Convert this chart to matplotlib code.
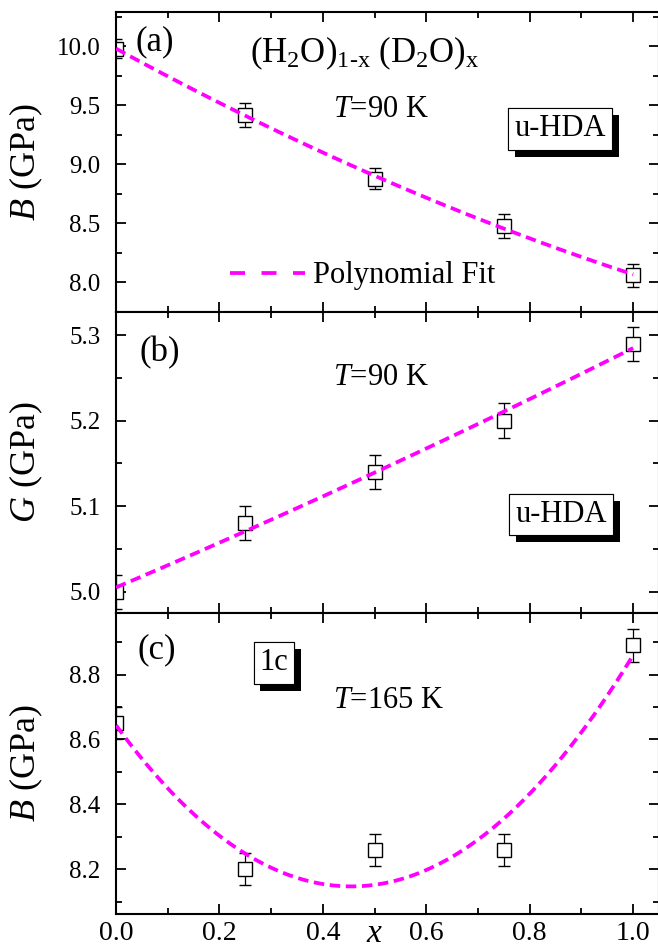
import numpy as np
import matplotlib
matplotlib.use('Agg')
import matplotlib.pyplot as plt
from matplotlib.ticker import MultipleLocator, FormatStrFormatter
from matplotlib.lines import Line2D
import matplotlib.patheffects as pe

plt.rcParams['font.family'] = ['Liberation Serif', 'DejaVu Serif']
plt.rcParams['mathtext.fontset'] = 'custom'
plt.rcParams['mathtext.rm'] = 'Liberation Serif'
plt.rcParams['mathtext.it'] = 'Liberation Serif:italic'

# D2O fraction
x = [0.0, 0.25, 0.5, 0.75, 1.0]

# (a) bulk modulus, u-HDA, 90 K
b_hda = [9.98, 9.42, 8.88, 8.48, 8.06]
b_hda_err = [0.08, 0.10, 0.09, 0.10, 0.10]

# (b) shear modulus, u-HDA, 90 K
g_hda = [5.00, 5.08, 5.14, 5.20, 5.29]
g_hda_err = [0.02, 0.02, 0.02, 0.02, 0.02]

# (c) bulk modulus, ice 1c, 165 K
b_ic = [8.65, 8.20, 8.26, 8.26, 8.89]
b_ic_err = [0.05, 0.05, 0.05, 0.05, 0.05]

fit_color = '#ff00ff'

fig = plt.figure(figsize=(6.58, 9.5), dpi=100)
left, right = 0.1763, 1.0015
tops = [0.98737, 0.67158, 0.35474]
bots = [0.67158, 0.35474, 0.03789]
axes = [fig.add_axes([left, b, right - left, t - b]) for t, b in zip(tops, bots)]

panels = [
    (b_hda, b_hda_err, (7.75, 10.29), 0.5, 0.25, '$B$ (GPa)'),
    (g_hda, g_hda_err, (4.975, 5.327), 0.1, 0.05, '$G$ (GPa)'),
    (b_ic, b_ic_err, (8.062, 8.99), 0.2, 0.1, '$B$ (GPa)'),
]

xf = np.linspace(0, 1, 200)
for ax, (y, err, ylim, maj, mnr, ylab) in zip(axes, panels):
    # quadratic polynomial fit of the points
    coef = np.polyfit(x, y, 2)
    ax.plot(xf, np.polyval(coef, xf), color=fit_color, lw=2.7,
            dashes=(2.8, 1.5), zorder=3)
    ax.errorbar(x, y, yerr=err, fmt='s', mfc='white', mec='black', mew=1.0,
                ms=10, ecolor='black', elinewidth=0.9, capsize=4.5,
                capthick=0.9, zorder=2)
    ax.set_xlim(0, 1.05)
    ax.set_ylim(*ylim)
    ax.xaxis.set_major_locator(MultipleLocator(0.2))
    ax.xaxis.set_minor_locator(MultipleLocator(0.1))
    ax.yaxis.set_major_locator(MultipleLocator(maj))
    ax.yaxis.set_minor_locator(MultipleLocator(mnr))
    ax.xaxis.set_major_formatter(FormatStrFormatter('%.1f'))
    ax.yaxis.set_major_formatter(FormatStrFormatter('%.1f'))
    ax.tick_params(which='both', direction='in', top=True, right=True, width=1.3)
    ax.tick_params(which='major', length=7)
    ax.tick_params(which='minor', length=4)
    ax.tick_params(axis='y', pad=11, labelsize=18)
    ax.tick_params(axis='x', pad=5, labelsize=20)
    for s in ax.spines.values():
        s.set_linewidth(1.5)
    ax.set_ylabel(ylab, fontsize=26)
    ax.yaxis.set_label_coords(-0.131, 0.5)

axes[0].tick_params(labelbottom=False)
axes[1].tick_params(labelbottom=False)


def boxed(ax, bx, by, s):
    t = ax.text(bx, by, s, transform=ax.transAxes, fontsize=22, ha='center',
                va='center', zorder=5,
                bbox=dict(boxstyle='square,pad=0.2', fc='white', ec='black', lw=0.8))
    t.get_bbox_patch().set_path_effects(
        [pe.withSimplePatchShadow(offset=(5, -5), shadow_rgbFace='black', alpha=1.0),
         pe.Normal()])


ax1, ax2, ax3 = axes
ax1.text(0.035, 0.90, '(a)', transform=ax1.transAxes, fontsize=25, va='center')
ax1.text(0.459, 0.833, r'(H$_2$O)$_{\mathrm{1\text{-}x}}$ (D$_2$O)$_\mathrm{x}$',
         transform=ax1.transAxes, fontsize=25, ha='center', va='baseline')
ax1.text(0.40, 0.65, '$T$=90 K', transform=ax1.transAxes, fontsize=22, va='baseline')
boxed(ax1, 0.818, 0.61, 'u-HDA')
handle = Line2D([], [], color=fit_color, lw=2.7, dashes=(4.0, 4.4))
ax1.legend([handle], ['Polynomial Fit'], loc='center left',
           bbox_to_anchor=(0.21, 0.12), frameon=False, fontsize=22,
           handlelength=2.45, handletextpad=0.25, borderpad=0, borderaxespad=0)

ax2.text(0.044, 0.864, '(b)', transform=ax2.transAxes, fontsize=25, va='center')
ax2.text(0.40, 0.757, '$T$=90 K', transform=ax2.transAxes, fontsize=22, va='baseline')
boxed(ax2, 0.82, 0.327, 'u-HDA')

ax3.text(0.039, 0.877, '(c)', transform=ax3.transAxes, fontsize=25, va='center')
ax3.text(0.40, 0.684, '$T$=165 K', transform=ax3.transAxes, fontsize=22, va='baseline')
boxed(ax3, 0.291, 0.834, '1c')
ax3.annotate('$x$', xy=(0.5, 0), xycoords=('data', 'axes fraction'),
             xytext=(0, -3), textcoords='offset points', ha='center', va='top',
             fontsize=24)

fig.savefig('out.png', dpi=100)
